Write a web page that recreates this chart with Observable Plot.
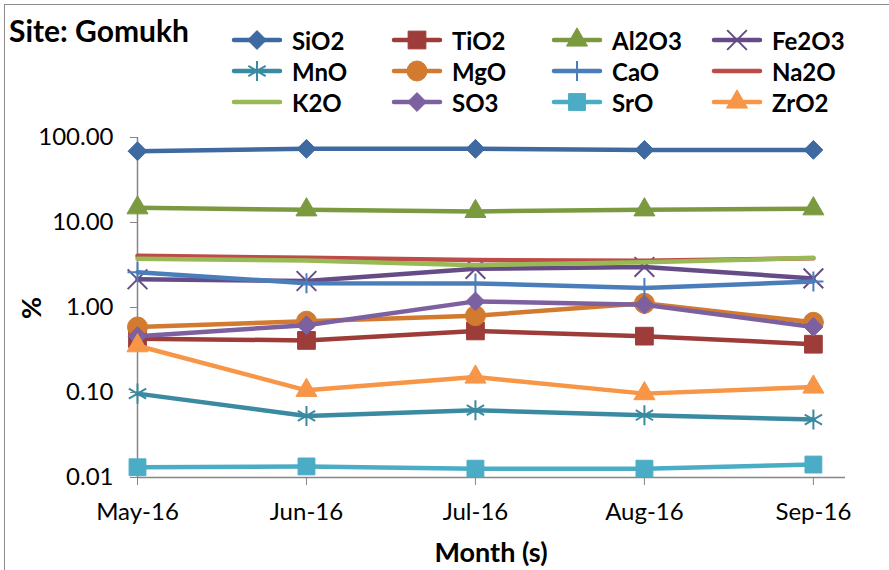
<!DOCTYPE html>
<html>
<head>
<meta charset="utf-8">
<script src="https://cdn.jsdelivr.net/npm/d3@7"></script>
<script src="https://cdn.jsdelivr.net/npm/@observablehq/plot@0.6"></script>
<style>
  html, body { margin: 0; padding: 0; background: #fff; }
  #wrap { position: relative; width: 889px; height: 570px; overflow: hidden; font-family: Lato, "Open Sans", sans-serif; color: #000; }
  #frame { position: absolute; left: 4px; top: 4px; width: 1000px; height: 1000px; border: 1.5px solid #8c8c8c; box-sizing: border-box; pointer-events: none; }
  #header { position: relative; height: 118px; }
  #title { position: absolute; left: 9px; top: 13px; font-weight: 700; font-size: 30px; line-height: 34px; white-space: nowrap; }
  .lg { position: absolute; display: flex; align-items: center; height: 30px; font-weight: 700; font-size: 24px; }
  .lg svg { margin-right: 10px; }
  #ylab { position: absolute; left: 30px; top: 308px; transform: translate(-50%, -50%) rotate(-90deg); font-weight: 700; font-size: 27px; }
  #xlab { position: absolute; left: 491px; top: 551px; transform: translate(-50%, -50%); font-weight: 700; font-size: 27px; white-space: nowrap; }
</style>
</head>
<body>
<div id="wrap">
  <div id="header"><div id="title">Site: Gomukh</div></div>
  <div id="chart"></div>
  <div id="ylab">%</div>
  <div id="xlab">Month (s)</div>
  <div id="frame"></div>
</div>
<script>
// ---- data ----
const months = ["May-16", "Jun-16", "Jul-16", "Aug-16", "Sep-16"];
const seriesNames = ["SiO2", "TiO2", "Al2O3", "Fe2O3", "MnO", "MgO", "CaO", "Na2O", "K2O", "SO3", "SrO", "ZrO2"];
const SiO2  = [69.0, 73.5, 73.5, 71.5, 71.5];
const TiO2  = [0.43, 0.41, 0.53, 0.46, 0.37];
const Al2O3 = [14.9, 14.1, 13.5, 14.1, 14.5];
const Fe2O3 = [2.15, 2.05, 2.85, 3.0, 2.2];
const MnO   = [0.097, 0.053, 0.062, 0.054, 0.048];
const MgO   = [0.59, 0.69, 0.80, 1.12, 0.67];
const CaO   = [2.6, 1.93, 1.92, 1.7, 2.02];
const Na2O  = [4.05, 3.85, 3.62, 3.55, 3.8];
const K2O   = [3.74, 3.57, 3.15, 3.4, 3.84];
const SO3   = [0.46, 0.62, 1.18, 1.08, 0.59];
const SrO   = [0.0132, 0.0135, 0.0127, 0.0127, 0.0142];
const ZrO2  = [0.355, 0.106, 0.152, 0.097, 0.116];
const yTicks = [0.01, 0.1, 1, 10, 100];

const values = {SiO2, TiO2, Al2O3, Fe2O3, MnO, MgO, CaO, Na2O, K2O, SO3, SrO, ZrO2};
const colors = {
  SiO2: "#3e69a1", TiO2: "#9d3c39", Al2O3: "#7b9a40", Fe2O3: "#664c86",
  MnO: "#3a8ba2", MgO: "#d27a30", CaO: "#4a7ebb", Na2O: "#be4b48",
  K2O: "#98b954", SO3: "#7d60a0", SrO: "#4bacc6", ZrO2: "#f79646"
};
// marker style: [symbol, r, filled]
const markers = {
  SiO2: ["diamond2", 8.5, true], TiO2: ["square", 10, true], Al2O3: ["triangle", 7.8, true],
  Fe2O3: ["times", 9, false], MnO: ["asterisk", 9.5, false], MgO: ["circle", 10, true],
  CaO: ["plus", 6.5, false], Na2O: null, K2O: null, SO3: ["diamond2", 8.5, true],
  SrO: ["square", 9.5, true], ZrO2: ["triangle", 7.8, true]
};
const d3sym = {diamond2: d3.symbolDiamond2, square: d3.symbolSquare, triangle: d3.symbolTriangle,
  times: d3.symbolTimes, asterisk: d3.symbolAsterisk, circle: d3.symbolCircle, plus: d3.symbolPlus};

// ---- legend ----
const header = document.getElementById("header");
const colX = [232, 392, 552, 712], rowY = [40, 71, 102];
seriesNames.forEach((name, i) => {
  const div = document.createElement("div");
  div.className = "lg";
  div.style.left = colX[i % 4] + "px";
  div.style.top = (rowY[Math.floor(i / 4)] - 15) + "px";
  const c = colors[name];
  let svg = `<svg width="50" height="30" style="overflow:visible"><line x1="2" x2="48" y1="15" y2="15" stroke="${c}" stroke-width="4.5" stroke-linecap="round"/>`;
  const m = markers[name];
  if (m) {
    const path = d3.symbol(d3sym[m[0]], Math.PI * m[1] * m[1])();
    svg += `<path transform="translate(25,15)" d="${path}" fill="${m[2] ? c : "none"}" stroke="${c}" stroke-width="${m[2] ? 1 : 2}"/>`;
  }
  svg += `</svg>`;
  div.innerHTML = svg + `<span>${name}</span>`;
  header.appendChild(div);
});

// ---- chart ----
const rows = seriesNames.flatMap(name => values[name].map((v, i) => ({name, i, v})));
const marks = [
  Plot.ruleY([0.01], {stroke: "#868686", strokeWidth: 1.5}),
  Plot.ruleX([0], {stroke: "#868686", strokeWidth: 1.5}),
  Plot.axisY({ticks: yTicks, tickFormat: d3.format(".2f"), tickSize: 7, tickPadding: 17, stroke: "#868686", label: null}),
  Plot.axisX({ticks: [0, 1, 2, 3, 4], tickFormat: i => months[i], tickSize: 8, tickPadding: 17, stroke: "#868686", label: null})
];
for (const name of seriesNames) {
  const data = rows.filter(d => d.name === name);
  const c = colors[name];
  marks.push(Plot.line(data, {x: "i", y: "v", stroke: c, strokeWidth: 4.5, strokeLinejoin: "round", strokeLinecap: "round"}));
  const m = markers[name];
  if (m) {
    marks.push(Plot.dot(data, {x: "i", y: "v", symbol: m[0], r: m[1],
      fill: m[2] ? c : "none", stroke: c, strokeWidth: m[2] ? 1 : 2}));
  }
}
const chart = Plot.plot({
  width: 889, height: 452,
  marginTop: 19, marginBottom: 93, marginLeft: 137, marginRight: 44,
  style: {fontFamily: "Lato, 'Open Sans', sans-serif", fontSize: "24px", color: "#000", background: "transparent", overflow: "visible"},
  x: {type: "linear", domain: [0, 4.19]},
  y: {type: "log", domain: [0.01, 100]},
  marks
});
document.getElementById("chart").appendChild(chart);
</script>
</body>
</html>
